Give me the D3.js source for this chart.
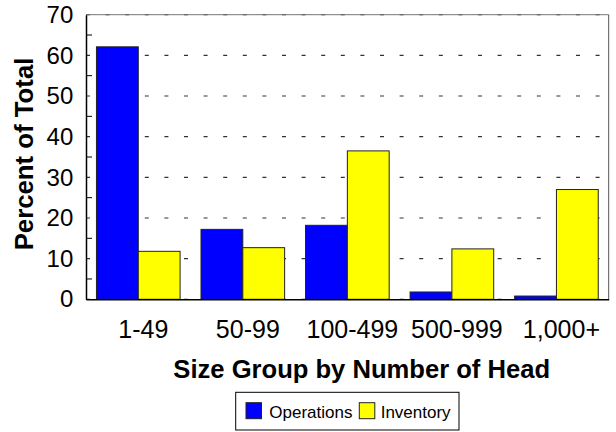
<!DOCTYPE html>
<html>
<head>
<meta charset="utf-8">
<script src="https://cdn.jsdelivr.net/npm/d3@7"></script>
<style>
  html, body { margin: 0; padding: 0; background: #fff; }
  svg { display: block; font-family: "Liberation Sans", Arial, sans-serif; }
</style>
</head>
<body>
<script>
const categories = ["1-49", "50-99", "100-499", "500-999", "1,000+"];
const seriesNames = ["Operations", "Inventory"];
const operations = [62.1, 17.2, 18.2, 1.8, 0.8];
const inventory = [11.8, 12.7, 36.5, 12.4, 27.0];
const yTicks = [0, 10, 20, 30, 40, 50, 60, 70];
const yMinorTicks = [5, 15, 25, 35, 45, 55, 65];
const colors = ["#0000ff", "#ffff00"];
const xTitle = "Size Group by Number of Head";
const yTitle = "Percent of Total";

(function () {
const W = 616, H = 432;
const pLeft = 86, pRight = 608.7, pTop = 14.7, pBottom = 299.3;

const svg = d3.select("body").append("svg").attr("width", W).attr("height", H);

const y = d3.scaleLinear().domain([0, 70]).range([pBottom, pTop]);
const x0 = d3.scaleBand().domain(categories).range([pLeft, pRight]).paddingInner(0.2).paddingOuter(0.1);
const x1 = d3.scaleBand().domain(seriesNames).range([0, x0.bandwidth()]);

// gridlines
svg.append("g").selectAll("line").data(yTicks).join("line")
  .attr("x1", pLeft).attr("x2", pRight)
  .attr("y1", d => y(d)).attr("y2", d => y(d))
  .attr("stroke", "#333").attr("stroke-width", 1.2)
  .attr("stroke-dasharray", "4,15.6");

// frame top/right
svg.append("line").attr("x1", pLeft).attr("x2", pRight).attr("y1", pTop).attr("y2", pTop)
  .attr("stroke", "#777").attr("stroke-width", 1);
svg.append("line").attr("x1", pRight).attr("x2", pRight).attr("y1", pTop).attr("y2", pBottom)
  .attr("stroke", "#555").attr("stroke-width", 1);

// bars
const data = categories.map((c, i) => ({cat: c, vals: [operations[i], inventory[i]]}));
const groups = svg.append("g").selectAll("g").data(data).join("g")
  .attr("transform", d => `translate(${x0(d.cat)},0)`);
groups.selectAll("rect").data(d => d.vals.map((v, j) => ({name: seriesNames[j], v, j}))).join("rect")
  .attr("x", d => x1(d.name))
  .attr("width", x1.bandwidth())
  .attr("y", d => y(d.v))
  .attr("height", d => pBottom - y(d.v))
  .attr("fill", d => colors[d.j])
  .attr("stroke", "#222").attr("stroke-width", 1);

// minor ticks inside on y axis
svg.append("g").selectAll("line").data(yMinorTicks).join("line")
  .attr("x1", pLeft).attr("x2", pLeft + 6)
  .attr("y1", d => y(d)).attr("y2", d => y(d))
  .attr("stroke", "#000").attr("stroke-width", 1);

// y axis
const yAxis = svg.append("g").attr("transform", `translate(${pLeft},0)`)
  .call(d3.axisLeft(y).tickValues(yTicks).tickSize(0).tickPadding(12.7).tickFormat(d3.format("d")));
yAxis.select(".domain").attr("stroke", "#000").attr("stroke-width", 1.5);
yAxis.selectAll("text").attr("font-size", 24).attr("fill", "#000")
  .attr("font-family", "Liberation Sans, Arial, sans-serif");

// x axis
const xAxis = svg.append("g").attr("transform", `translate(0,${pBottom})`)
  .call(d3.axisBottom(x0).tickSize(0).tickPadding(21));
xAxis.select(".domain").attr("stroke", "#000").attr("stroke-width", 1.5);
xAxis.selectAll("text").attr("font-size", 25).attr("fill", "#000").attr("dx", 5)
  .attr("font-family", "Liberation Sans, Arial, sans-serif");

// titles
svg.append("text").attr("x", 361.7).attr("y", 377.5).attr("text-anchor", "middle")
  .attr("font-size", 25).attr("font-weight", "bold").attr("fill", "#000")
  .attr("textLength", 376.7).attr("lengthAdjust", "spacingAndGlyphs").text(xTitle);
svg.append("text").attr("transform", `translate(33.3,${(pTop + pBottom) / 2 - 3}) rotate(-90)`)
  .attr("text-anchor", "middle")
  .attr("font-size", 25).attr("font-weight", "bold").attr("fill", "#000")
  .attr("textLength", 192.7).attr("lengthAdjust", "spacingAndGlyphs").text(yTitle);

// legend
const lg = svg.append("g");
lg.append("rect").attr("x", 235.7).attr("y", 392.3).attr("width", 223.3).attr("height", 37.7)
  .attr("fill", "#fff").attr("stroke", "#000").attr("stroke-width", 1);
const legendX = [{sx: 246, tx: 269.3}, {sx: 359.3, tx: 380.7}];
seriesNames.forEach((n, i) => {
  lg.append("rect").attr("x", legendX[i].sx).attr("y", 402.7).attr("width", 15.5).attr("height", 16)
    .attr("fill", colors[i]).attr("stroke", "#222").attr("stroke-width", 1);
  lg.append("text").attr("x", legendX[i].tx).attr("y", 418).attr("font-size", 17)
    .attr("fill", "#000").text(n);
});
})();
</script>
</body>
</html>
